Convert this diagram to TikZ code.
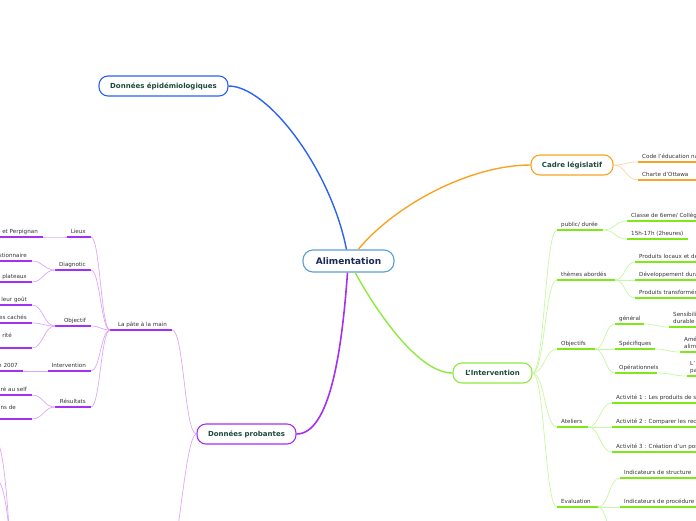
\documentclass[tikz,border=0pt]{standalone}
\usepackage{fontspec}
\setmainfont{DejaVu Sans}
\definecolor{alimb}{HTML}{5B9FD6}
\definecolor{alimt}{HTML}{1A2A55}
\definecolor{titlec}{HTML}{1D4A3C}
\definecolor{leafc}{HTML}{333333}
\definecolor{blue1}{HTML}{2A62F2}
\definecolor{orange1}{HTML}{F9A326}
\definecolor{orangeT}{HTML}{FCD6A0}
\definecolor{green1}{HTML}{8EEA3E}
\definecolor{greenU}{HTML}{7EE81A}
\definecolor{greenT}{HTML}{C8F6A2}
\definecolor{purple1}{HTML}{A630F2}
\definecolor{purpleU}{HTML}{A42FF5}
\definecolor{purpleT}{HTML}{DCA6FA}
\newcommand{\mmR}[6]{%
  \coordinate (#1-l) at (#2,#4);
  \coordinate (#1-r) at (#3,#4);
  \draw[#5] (#1-l) -- (#1-r);
  \node[leaf, anchor=base west] (#1) at (#2+4,#4-3.6) {#6};}
\newcommand{\mmL}[6]{%
  \coordinate (#1-l) at (#2,#4);
  \coordinate (#1-r) at (#3,#4);
  \draw[#5] (#1-l) -- (#1-r);
  \node[leaf, anchor=base east] (#1) at (#3-5,#4-3.6) {#6};}
\begin{document}
\begin{tikzpicture}[x=1pt,y=-1pt,
  leaf/.style={inner sep=0pt, font=\fontsize{5.6}{6.5}\selectfont, text=leafc},
  mainbox/.style={draw, line width=1.1pt, rounded corners=9pt, fill=white, minimum height=20pt, inner sep=0pt, font=\fontsize{7}{8}\selectfont\bfseries, text=titlec},
  gcon/.style={draw=greenT, line width=0.7pt},
  gul/.style={draw=greenU, line width=1.8pt},
  pcon/.style={draw=purpleT, line width=0.7pt},
  pul/.style={draw=purpleU, line width=1.8pt},
  ocon/.style={draw=orangeT, line width=0.7pt},
  oul/.style={draw=orange1, line width=1.8pt},
  trunk/.style={line width=1.4pt}]
\useasboundingbox (0,0) rectangle (696,520);
\clip (0,0) rectangle (696,520);

% main nodes
\node[mainbox, draw=alimb, minimum width=91pt, minimum height=22pt, rounded corners=10pt, font=\fontsize{9}{10}\selectfont\bfseries, text=alimt] (alim) at (348.5,261) {Alimentation};
\node[mainbox, draw=blue1, minimum width=129pt] (epi) at (163.5,86) {Données épidémiologiques};
\node[mainbox, draw=orange1, minimum width=82pt] (cadre) at (572,165) {Cadre législatif};
\node[mainbox, draw=green1, minimum width=79pt] (inter) at (492.5,373) {L'Intervention};
\node[mainbox, draw=purple1, minimum width=99pt] (prob) at (246.5,434) {Données probantes};

% trunks
\draw[trunk, draw=blue1] (epi.east) .. controls (268,86) and (331,170) .. (alim.100);
\draw[trunk, draw=orange1] (alim.50) .. controls (395,205) and (470,165) .. (cadre.west);
\draw[trunk, draw=green1] (alim.-60) .. controls (370,300) and (415,373) .. (inter.west);
\draw[trunk, draw=purple1, line width=1.6pt] (alim.-95) .. controls (342,350) and (330,434) .. (prob.east);

% Cadre legislatif
\mmR{code}{638}{700}{162}{oul}{Code l'éducation na}
\mmR{charte}{638}{700}{180}{oul}{Charte d'Ottawa}
\draw[ocon] (cadre.east) .. controls +(12,0) and +(-12,0) .. (code-l);
\draw[ocon] (cadre.east) .. controls +(12,0) and +(-12,0) .. (charte-l);

% L'Intervention level 1
\mmR{pub}{557}{603}{230}{gul}{public/ durée}
\mmR{them}{557}{615}{280}{gul}{thèmes abordés}
\mmR{obj}{557}{595}{349}{gul}{Objectifs}
\mmR{atel}{557}{588}{427}{gul}{Ateliers}
\mmR{eval}{557}{598}{507}{gul}{Evaluation}
\foreach \c in {pub,them,obj,atel,eval}
  \draw[gcon] (inter.east) .. controls +(12,0) and +(-12,0) .. (\c-l);

% level 2
\mmR{classe}{627}{700}{221}{gul}{Classe de 6eme/ Collèg}
\mmR{hq}{627}{688}{239}{gul}{15h-17h (2heures)}
\draw[gcon] (pub-r) .. controls +(12,0) and +(-12,0) .. (classe-l);
\draw[gcon] (pub-r) .. controls +(12,0) and +(-12,0) .. (hq-l);

\mmR{prodA}{635}{700}{262}{gul}{Produits locaux et de}
\mmR{dev}{635}{700}{280}{gul}{Développement dura}
\mmR{prodB}{635}{700}{298}{gul}{Produits transformés}
\foreach \c in {prodA,dev,prodB}
  \draw[gcon] (them-r) .. controls +(10,0) and +(-10,0) .. (\c-l);

\mmR{gen}{615}{644}{324}{gul}{général}
\mmR{spec}{615}{655}{349}{gul}{Spécifiques}
\mmR{oper}{615}{657}{373}{gul}{Opérationnels}
\foreach \c in {gen,spec,oper}
  \draw[gcon] (obj-r) .. controls +(10,0) and +(-10,0) .. (\c-l);

\mmR{act1}{612}{700}{403}{gul}{Activité 1 : Les produits de s}
\mmR{act2}{612}{700}{427}{gul}{Activité 2 : Comparer les rec}
\mmR{act3}{612}{700}{452}{gul}{Activité 3 : Création d'un pos}
\foreach \c in {act1,act2,act3}
  \draw[gcon] (atel-r) .. controls +(12,0) and +(-12,0) .. (\c-l);

\mmR{indA}{620}{700}{478}{gul}{Indicateurs de structure}
\mmR{indB}{620}{700}{507}{gul}{Indicateurs de procédure}
\coordinate (evthree) at (622,560);
\foreach \c in {indA-l,indB-l,evthree}
  \draw[gcon] (eval-r) .. controls +(11,0) and +(-11,0) .. (\c);

% level 3
\coordinate (sens-l) at (669,327); \coordinate (sens-r) at (700,327);
\draw[gul] (sens-l) -- (sens-r);
\node[leaf, anchor=base west] (sensA) at (673,316.5) {Sensibili};
\node[leaf, anchor=base west] (sensB) at (673,323.5) {durable};
\draw[gcon] (gen-r) .. controls +(12,0) and +(-12,0) .. (sens-l);

\coordinate (ame-l) at (680,352); \coordinate (ame-r) at (700,352);
\draw[gul] (ame-l) -- (ame-r);
\node[leaf, anchor=base west] (ameA) at (684,341.5) {Amé};
\node[leaf, anchor=base west] (ameB) at (684,348.5) {alim};
\draw[gcon] (spec-r) .. controls +(12,0) and +(-12,0) .. (ame-l);

\coordinate (lp-l) at (687,376); \coordinate (lp-r) at (700,376);
\draw[gul] (lp-l) -- (lp-r);
\node[leaf, anchor=base west] (lpA) at (690,365.5) {L'};
\node[leaf, anchor=base west] (lpB) at (690,372.5) {pa};
\draw[gcon] (oper-r) .. controls +(14,0) and +(-14,0) .. (lp-l);

% Donnees probantes
\mmL{pate}{110}{172}{330}{pul}{La pâte à la main}
\draw[pcon] (prob.west) .. controls +(-12,0) and +(12,0) .. (pate-r);
\coordinate (pdown) at (165,580);
\draw[pcon] (prob.west) .. controls +(-12,0) and +(12,0) .. (pdown);

\mmL{lieux}{67}{91}{237}{pul}{Lieux}
\mmL{diag}{55}{91}{270}{pul}{Diagnotic}
\mmL{objf}{55}{91}{326}{pul}{Objectif}
\mmL{intv}{48}{91}{371}{pul}{Intervention}
\mmL{res}{55}{91}{407}{pul}{Résultats}
\foreach \c in {lieux,diag,objf,intv,res}
  \draw[pcon] (pate-l) .. controls +(-9,0) and +(9,0) .. (\c-r);

\mmL{perp}{-10}{43}{237}{pul}{e et Perpignan}
\draw[pcon] (lieux-l) .. controls +(-11,0) and +(11,0) .. (perp-r);

\mmL{quest}{-10}{32}{261}{pul}{stionnaire}
\mmL{plat}{-10}{32}{282}{pul}{s plateaux}
\draw[pcon] (diag-l) .. controls +(-11,0) and +(11,0) .. (quest-r);
\draw[pcon] (diag-l) .. controls +(-11,0) and +(11,0) .. (plat-r);

\mmL{gout}{-10}{32}{305}{pul}{c leur goût}
\mmL{cach}{-10}{32}{323}{pul}{res cachés}
\coordinate (rite-l) at (-10,348); \coordinate (rite-r) at (32,348);
\draw[pul] (rite-l) -- (rite-r);
\node[leaf, anchor=base east] (rite) at (12,337) {rité};
\foreach \c in {gout,cach,rite}
  \draw[pcon] (objf-l) .. controls +(-11,0) and +(11,0) .. (\c-r);

\mmL{nsept}{-10}{23}{371}{pul}{n 2007}
\draw[pcon] (intv-l) .. controls +(-12,0) and +(12,0) .. (nsept-r);

\mmL{self}{-10}{32}{395}{pul}{ré au self}
\coordinate (nsde-l) at (-10,419); \coordinate (nsde-r) at (32,419);
\draw[pul] (nsde-l) -- (nsde-r);
\node[leaf, anchor=base east] (nsde) at (16,409.5) {ns de};
\draw[pcon] (res-l) .. controls +(-11,0) and +(11,0) .. (self-r);
\draw[pcon] (res-l) .. controls +(-11,0) and +(11,0) .. (nsde-r);

% bottom-left connectors of an off-picture branch
\coordinate (blA) at (-4,440);
\coordinate (blB) at (-4,478);
\coordinate (blP) at (11,560);
\draw[pcon] (blA) .. controls (3,445) and (7,490) .. (blP);
\draw[pcon] (blB) .. controls (3,482) and (8,505) .. (blP);
\end{tikzpicture}
\end{document}
